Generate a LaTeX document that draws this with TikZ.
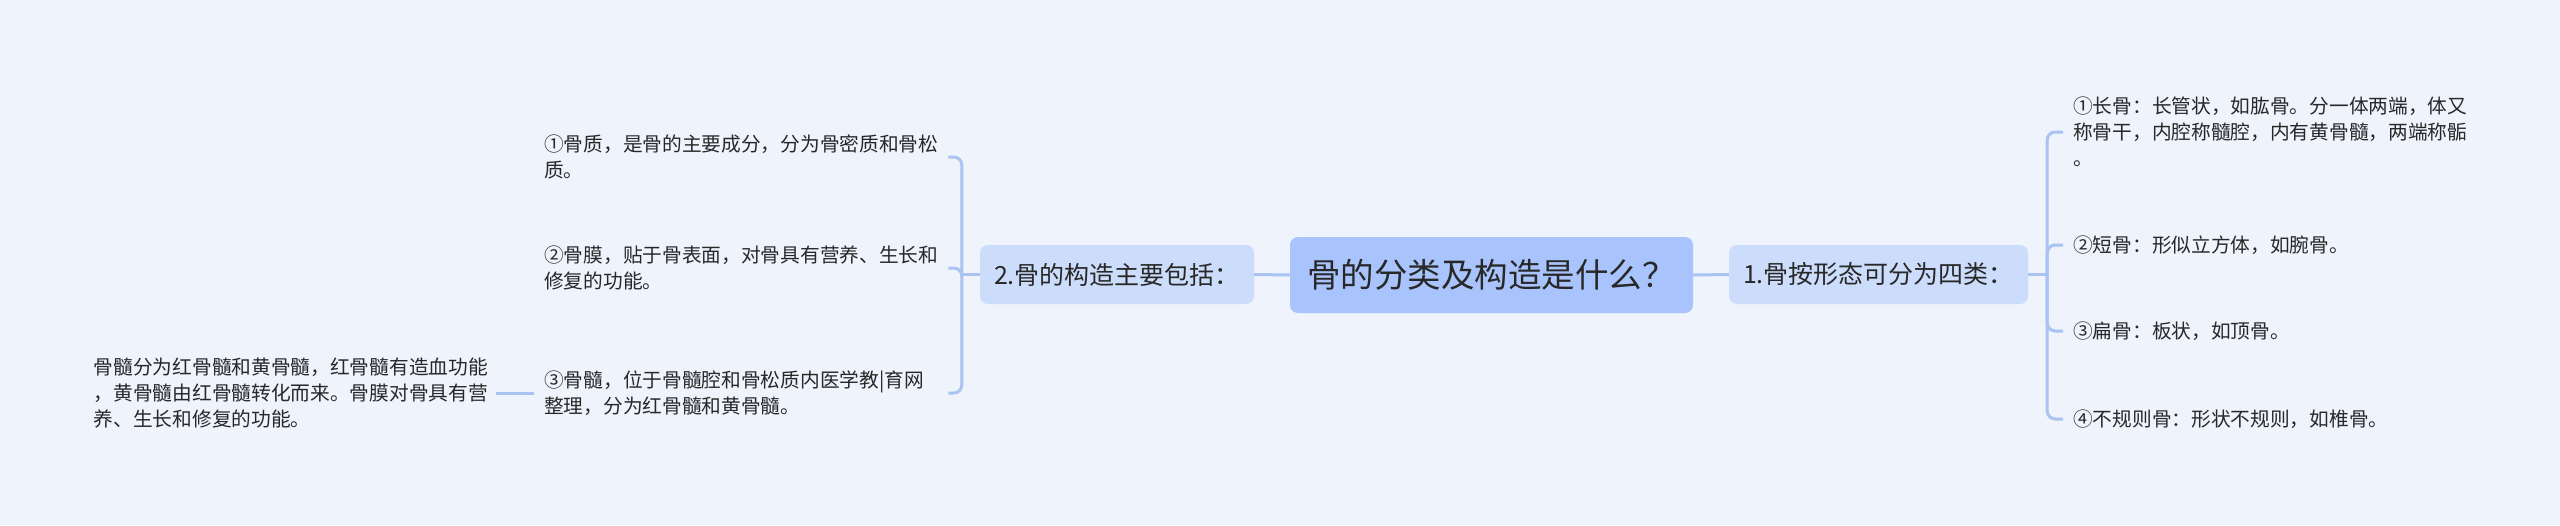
\documentclass[tikz,border=0pt]{standalone}
\usepackage{fontspec}
\setmainfont{Noto Sans CJK SC}
\usepackage{tikz}
\usetikzlibrary{calc}
\definecolor{BackColor}{RGB}{238,243,252}
\definecolor{RootColor}{RGB}{169,196,252}
\definecolor{BranchColor}{RGB}{204,220,251}
\definecolor{LineColor}{RGB}{170,195,240}
\definecolor{TextColor}{RGB}{40,40,40}

\begin{document}
\begin{tikzpicture}[x=1pt,y=-1pt,
  every node/.style={text=TextColor},
  root/.style={rounded corners=8pt, fill=RootColor, minimum width=403pt, minimum height=76pt, font=\fontsize{33.5}{40}\selectfont},
  branch/.style={rounded corners=8pt, fill=BranchColor, minimum height=59pt, font=\fontsize{25}{30}\selectfont},
  leaf/.style={align=left, text width=394pt, inner xsep=10pt, font=\fontsize{19.7}{26}\selectfont},
  link/.style={draw=LineColor, line width=3pt}]

  \fill[BackColor] (0,0) rectangle (2560,525);
  \useasboundingbox (0,0) rectangle (2560,525);

  \node[root] (root) at (1491.5,275) {骨的分类及构造是什么？};
  \node[branch, minimum width=299pt] (kinds) at (1878.5,274.5) {1.骨按形态可分为四类：};
  \node[branch, minimum width=274pt] (parts) at (1117,274.5) {2.骨的构造主要包括：};

  % right side
  \node[leaf, anchor=west] (long) at (2063,132) {①长骨：长管状，如肱骨。分一体两端，体又\\称骨干，内腔称髓腔，内有黄骨髓，两端称骺\\。};
  \node[leaf, anchor=west] (short) at (2063,245) {②短骨：形似立方体，如腕骨。};
  \node[leaf, anchor=west] (flat) at (2063,331) {③扁骨：板状，如顶骨。};
  \node[leaf, anchor=west] (irregular) at (2063,419) {④不规则骨：形状不规则，如椎骨。};

  % left side
  \node[leaf, anchor=west] (substance) at (534,157) {①骨质，是骨的主要成分，分为骨密质和骨松\\质。};
  \node[leaf, anchor=west] (membrane) at (534,268) {②骨膜，贴于骨表面，对骨具有营养、生长和\\修复的功能。};
  \node[leaf, anchor=west] (marrow) at (534,393) {③骨髓，位于骨髓腔和骨松质内医学教|育网\\整理，分为红骨髓和黄骨髓。};
  \node[leaf, anchor=east, inner xsep=8pt] (marrowNote) at (496,393) {骨髓分为红骨髓和黄骨髓，红骨髓有造血功能\\，黄骨髓由红骨髓转化而来。骨膜对骨具有营\\养、生长和修复的功能。};

  \coordinate (rightFork) at ($(kinds.east)+(19,0)$);
  \coordinate (leftFork) at ($(parts.west)+(-18,0)$);

  \draw[link] (root.east) -- (kinds.west);
  \draw[link] (root.west) -- (parts.east);
  \draw[link] (kinds.east) -- (rightFork);
  \draw[link] (parts.west) -- (leftFork);
  \foreach \leafname in {long,short,flat,irregular}
    \draw[link, rounded corners=8pt] (rightFork) |- (\leafname.west);
  \foreach \leafname in {substance,membrane,marrow}
    \draw[link, rounded corners=8pt] (leftFork) |- (\leafname.east);
  \draw[link] (marrow.west) -- (marrowNote.east);

\end{tikzpicture}
\end{document}
